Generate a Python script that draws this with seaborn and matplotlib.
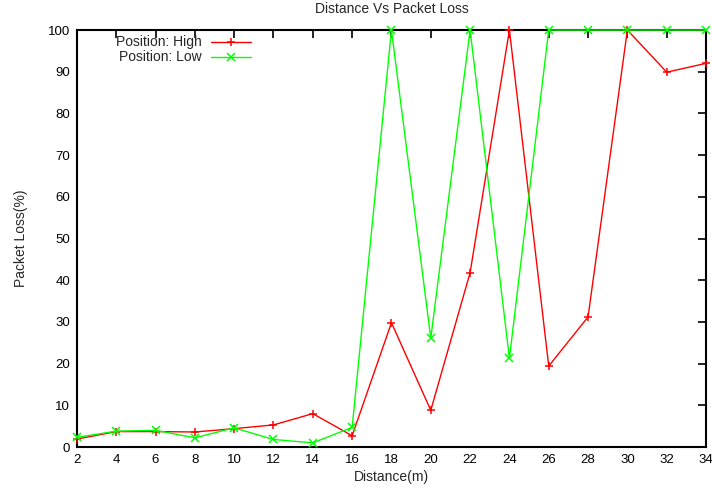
import matplotlib
matplotlib.use("Agg")
import matplotlib.pyplot as plt
import seaborn as sns
import pandas as pd
from matplotlib.lines import Line2D

distance = [2, 4, 6, 8, 10, 12, 14, 16, 18, 20, 22, 24, 26, 28, 30, 32, 34]
loss_high = [1.9, 3.7, 3.7, 3.6, 4.4, 5.3, 8.0, 2.7, 29.8, 8.8, 41.8, 100, 19.4, 31.2, 100, 89.9, 92.0]
loss_low = [2.3, 3.8, 4.0, 2.2, 4.6, 1.8, 1.0, 4.7, 100, 26.1, 100, 21.3, 100, 100, 100, 100, 100]
series_names = ["Position: High", "Position: Low"]
colors = ["#ff0000", "#00ff00"]
markers = ["+", "x"]

sns.set_style("white")
plt.rcParams['font.family'] = ['Liberation Sans', 'DejaVu Sans']
FS = 10

fig = plt.figure(figsize=(7.12, 4.93), dpi=100)
ax = fig.add_axes([0.108, 0.0933, 0.8836, 0.8458])

df = pd.DataFrame({"Distance": distance * 2,
                   "Loss": loss_high + loss_low,
                   "Series": [series_names[0]] * len(distance) + [series_names[1]] * len(distance)})

for name, col, mk in zip(series_names, colors, markers):
    sub = df[df["Series"] == name]
    sns.lineplot(data=sub, x="Distance", y="Loss", ax=ax, color=col, marker=mk,
                 markersize=6, markeredgewidth=1.1, markeredgecolor=col, markerfacecolor=col,
                 linewidth=1.0, legend=False, clip_on=False, zorder=3)

ax.set_xlim(2, 34)
ax.set_ylim(0, 100)
ax.set_xticks(distance)
ax.set_yticks(range(0, 101, 10))
ax.tick_params(direction="in", length=6, width=1.2, top=True, right=True,
               labelsize=9.5, colors="black", pad=5)
for s in ax.spines.values():
    s.set_linewidth(1.5)
    s.set_color("black")

ax.set_title("Distance Vs Packet Loss", fontsize=FS, pad=12)
ax.set_xlabel("Distance(m)", fontsize=FS, labelpad=3)
ax.set_ylabel("Packet Loss(%)", fontsize=FS, labelpad=14)

# gnuplot-style key: text right-aligned, sample to its right
key_y = [0.9705, 0.9345]
for name, col, mk, yy in zip(series_names, colors, markers, key_y):
    ax.text(0.198, yy, name, transform=ax.transAxes, ha="right", va="center", fontsize=FS)
    ax.add_line(Line2D([0.2126, 0.276], [yy, yy], transform=ax.transAxes, color=col, linewidth=1.0))
    ax.add_line(Line2D([0.2443], [yy], transform=ax.transAxes, color=col, marker=mk,
                       markersize=6, markeredgewidth=1.1, linestyle="none"))

fig.savefig("out.png", dpi=100)
